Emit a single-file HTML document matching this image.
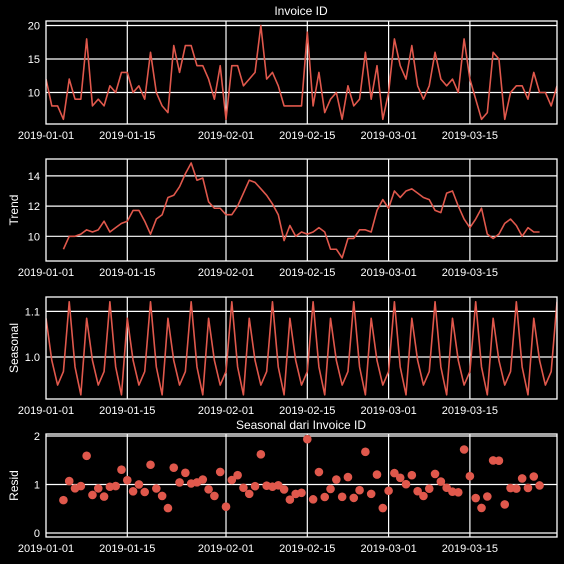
<!DOCTYPE html>
<html><head><meta charset="utf-8">
<style>
html,body{margin:0;padding:0;background:#000;}
svg{display:block;font-family:"Liberation Sans",sans-serif;}
</style></head>
<body>
<svg id="chart" width="564" height="564" viewBox="0 0 564 564" xmlns="http://www.w3.org/2000/svg">
<rect width="564" height="564" fill="#000"/>
</svg>
<script>
const observed = [12,8,8,6,12,9,9,18,8,9,8,11,10,13,13,10,11,9,16,10,8,7,17,13,17,17,14,14,12,9,14,6,14,14,11,12,13,20,12,13,11,8,8,8,8,19,8,13,7,9,10,6,11,8,9,16,9,14,6,10,18,14,12,17,11,9,11,16,12,11,12,10,18,12,9,6,7,16,15,6,10,11,11,9,13,10,10,8,11];
const tickDays = [0,14,31,45,59,73];
const tickLabels = ["2019-01-01","2019-01-15","2019-02-01","2019-02-15","2019-03-01","2019-03-15"];
const obsTicks = [10,15,20];
const trendTicks = [10,12,14];
const seasTicks = [1.0,1.1];
const residTicks = [0,1,2];
const period = 7;

// decomposition (multiplicative, centered MA)
const n = observed.length;
const trend = observed.map((v,i)=>{
  if(i<3||i>n-4) return null;
  let s=0; for(let k=-3;k<=3;k++) s+=observed[i+k]; return s/7;
});
const phaseAvg = [];
for(let p=0;p<period;p++){
  let s=0,c=0;
  for(let i=p;i<n;i+=period){ if(trend[i]!==null){ s+=observed[i]/trend[i]; c++; } }
  phaseAvg.push(s/c);
}
const pm = phaseAvg.reduce((a,b)=>a+b,0)/period;
const seasonal = observed.map((v,i)=>phaseAvg[i%period]/pm);
const resid = observed.map((v,i)=> trend[i]===null?null: v/(trend[i]*seasonal[i]));

const NS="http://www.w3.org/2000/svg";
const svg=document.getElementById('chart');
const X0=46, X1=557;
const xs = d => X0 + d*(X1-X0)/(n-1);
const RED="#e0584c";
function el(tag,attrs,parent){const e=document.createElementNS(NS,tag);for(const k in attrs)e.setAttribute(k,attrs[k]);(parent||svg).appendChild(e);return e;}

const panels=[
 {key:'observed',top:21,bot:124,yf:v=>92.5-(v-10)*6.7,ticks:obsTicks,fmt:v=>String(v),label:null,data:observed,type:'line'},
 {key:'trend',top:159,bot:261,yf:v=>236.3-(v-10)*15.1,ticks:trendTicks,fmt:v=>String(v),label:'Trend',data:trend,type:'line'},
 {key:'seasonal',top:297,bot:399,yf:v=>357-(v-1)*456,ticks:seasTicks,fmt:v=>v.toFixed(1),label:'Seasonal',data:seasonal,type:'line'},
 {key:'resid',top:434,bot:537,yf:v=>533-v*48.5,ticks:residTicks,fmt:v=>String(v),label:'Resid',data:resid,type:'scatter'}
];

panels.forEach(p=>{
  const g=el('g',{});
  
  
  const clipId='clip-'+p.key;
  const cp=el('clipPath',{id:clipId},g);
  el('rect',{x:X0,y:p.top,width:X1-X0,height:p.bot-p.top},cp);
  // grid
  p.ticks.forEach(t=>{
    const y=p.yf(t);
    const gl=el('line',{x1:X0,x2:X1,y1:y,y2:y,stroke:'#fff','stroke-width':1.2},g);
    
    
    const tl=el('text',{x:X0-6,y:y+4,'text-anchor':'end','font-size':11,fill:'#fff'},g);
    tl.textContent=p.fmt(t);
    
    
  });
  tickDays.forEach((d,i)=>{
    const x=xs(d);
    if(d>0){
      const gl=el('line',{x1:x,x2:x,y1:p.top,y2:p.bot,stroke:'#fff','stroke-width':1.2},g);
      
      
    }
    const tl=el('text',{x:x,y:p.bot+15,'text-anchor':'middle','font-size':11,fill:'#fff'},g);
    tl.textContent=tickLabels[i];
    
    
  });
  // series
  const sg=el('g',{'clip-path':'url(#'+clipId+')'},g);
  if(p.type==='line'){
    let dstr='';
    p.data.forEach((v,i)=>{ if(v===null) return; dstr+=(dstr?'L':'M')+xs(i).toFixed(2)+','+p.yf(v).toFixed(2); });
    const path=el('path',{d:dstr,fill:'none',stroke:RED,'stroke-width':1.6,'stroke-linejoin':'round'},sg);
    
    
  } else {
    p.data.forEach((v,i)=>{
      if(v===null) return;
      const c=el('circle',{cx:xs(i),cy:p.yf(v),r:4.3,fill:RED},sg);
      
      
    });
  }
  const fr=el('rect',{x:X0,y:p.top,width:X1-X0,height:p.bot-p.top,fill:'none',stroke:'#fff','stroke-width':1.3},g);
  
  
  if(p.label){
    const cy=(p.top+p.bot)/2;
    const lab=el('text',{x:0,y:0,transform:'translate(18,'+cy+') rotate(-90)','text-anchor':'middle','font-size':12,fill:'#fff'},g);
    lab.textContent=p.label;
    
    
  }
});
const t1=el('text',{x:301,y:15,'text-anchor':'middle','font-size':12,fill:'#fff'});
t1.textContent='Invoice ID';


const t2=el('text',{x:301,y:429,'text-anchor':'middle','font-size':12,fill:'#fff'});
t2.textContent='Seasonal dari Invoice ID';


</script>
</body></html>
